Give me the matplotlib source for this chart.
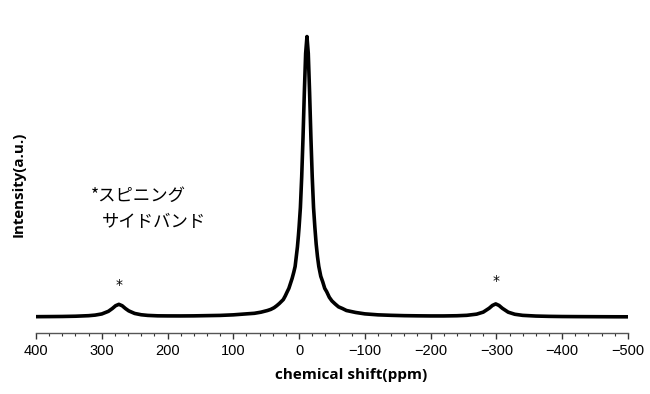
import matplotlib
matplotlib.use("Agg")
import matplotlib.pyplot as plt
from matplotlib.ticker import MultipleLocator, FuncFormatter

# 化学シフト (ppm) と強度 (a.u.、メインピーク=100) - 画像から読み取った値
shift_ppm = [400, 380, 360, 340, 320, 310, 300, 290, 284, 279, 274, 269, 264, 259,
             250, 240, 230, 215, 200, 180, 160, 140, 120, 100, 80, 68, 58, 53, 48, 43,
             38, 34, 30, 27, 24, 21, 18, 15.5, 13, 10.5, 8, 6, 4, 2.5, 1, 0,
             -2, -4, -6, -8, -10, -12, -14, -16, -18, -20, -22, -24, -26, -28, -30,
             -33, -36, -39, -42, -46, -50, -55, -60, -66, -72, -86, -100, -120, -140, -160,
             -180, -200, -220, -240, -255, -270, -280, -289, -294, -299, -304, -309,
             -318, -328, -340, -360, -380, -400, -420, -440, -460, -480, -500]
intensity = [0.10, 0.13, 0.17, 0.26, 0.45, 0.66, 1.07, 2.0, 3.0, 4.0, 4.5, 4.0, 3.0, 2.17,
             1.25, 0.78, 0.55, 0.40, 0.37, 0.36, 0.39, 0.47, 0.55, 0.75, 1.1, 1.3, 1.7, 2.0, 2.3, 2.7,
             3.3, 4.0, 4.8, 5.5, 6.2, 7.5, 9.0, 10.2, 12.0, 13.8, 16.0, 18.0, 22.0, 25.0, 29.0, 32.0,
             39.0, 50.0, 64.0, 80.0, 94.0, 100.0, 94.0, 80.0, 64.0, 50.0, 39.0, 32.0, 26.0, 21.5, 18.0,
             14.5, 12.5, 10.2, 9.0, 7.0, 5.7, 4.6, 3.6, 3.0, 2.3, 1.6, 1.1, 0.75, 0.58, 0.46,
             0.40, 0.36, 0.36, 0.43, 0.58, 1.0, 1.72, 3.1, 4.1, 4.65, 4.1, 3.1,
             1.7, 0.96, 0.57, 0.32, 0.21, 0.15, 0.12, 0.10, 0.08, 0.06, 0.05]

# スピニングサイドバンドの位置
sideband_ppm = [274, -299]
sideband_mark = [11.4, 12.9]

fig = plt.figure(figsize=(6.5, 3.94), dpi=100)
ax = fig.add_axes([0.0554, 0.155, 0.9106, 0.77])

ax.plot(shift_ppm, intensity, color="black", lw=2.6, solid_joinstyle="round")
ax.set_xlim(400, -500)
ax.set_ylim(-5.7, 102.5)

for xp, yp in zip(sideband_ppm, sideband_mark):
    ax.text(xp, yp, "*", ha="center", va="center", fontsize=10, family="DejaVu Sans")

ax.text(0.093, 0.452, "*スピニング", transform=ax.transAxes, fontsize=12.5,
        family=["Noto Sans CJK JP", "DejaVu Sans"], va="center", ha="left")
ax.text(0.111, 0.366, "サイドバンド", transform=ax.transAxes, fontsize=12.5,
        family=["Noto Sans CJK JP", "DejaVu Sans"], va="center", ha="left")

for s in ["top", "right", "left"]:
    ax.spines[s].set_visible(False)
ax.spines["bottom"].set_color("#555555")
ax.spines["bottom"].set_linewidth(1.0)
ax.set_yticks([])

ax.xaxis.set_major_locator(MultipleLocator(100))
ax.xaxis.set_minor_locator(MultipleLocator(20))
ax.xaxis.set_major_formatter(FuncFormatter(lambda v, p: f"{int(v)}".replace("-", "\u2212")))
ax.tick_params(axis="x", which="major", direction="out", length=4, width=1.0,
               color="#333333", labelsize=10.5, pad=4)
ax.tick_params(axis="x", which="minor", direction="out", length=2.5, width=0.8,
               color="#333333")
for lbl in ax.get_xticklabels():
    lbl.set_family("Liberation Sans")

ax.set_xlabel("chemical shift(ppm)", fontsize=11, fontweight="bold", family="Open Sans")
ax.xaxis.set_label_coords(0.532, -0.115)
fig.text(0.028, 0.533, "Intensity(a.u.)", rotation=90, fontsize=10.8, fontweight="bold",
         family="Open Sans", ha="center", va="center")

fig.savefig("out.png", dpi=100)
